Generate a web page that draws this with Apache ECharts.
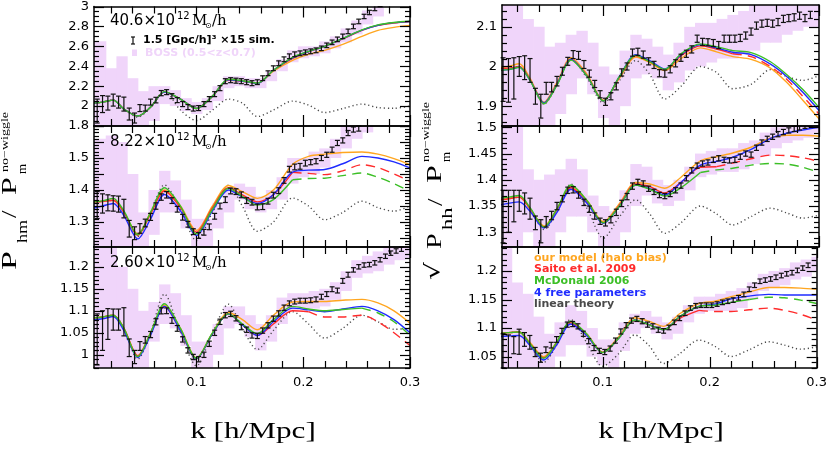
<!DOCTYPE html>
<html>
<head>
<meta charset="utf-8">
<script src="https://cdn.jsdelivr.net/npm/echarts@6/dist/echarts.min.js"></script>
<style>
  html, body { margin: 0; padding: 0; background: #fff; }
  .char { width: 830px; height: 463px; }
</style>
</head>
<body>
<div id="char" class="char"></div>
<script>
// k grid of the model curves
const kModel = [0.004, 0.012, 0.022, 0.032, 0.045, 0.057, 0.07, 0.085, 0.1, 0.115, 0.13, 0.143, 0.157, 0.172, 0.19, 0.205, 0.22, 0.237, 0.255, 0.27, 0.285, 0.3]
// k of the simulation points
const kSim = [0.007, 0.012, 0.017, 0.022, 0.027, 0.032, 0.037, 0.042, 0.047, 0.052,
  0.057, 0.062, 0.067, 0.072, 0.077, 0.082, 0.087, 0.092, 0.097, 0.102,
  0.107, 0.112, 0.117, 0.122, 0.127, 0.132, 0.137, 0.142, 0.147, 0.152,
  0.157, 0.162, 0.167, 0.172, 0.177, 0.182, 0.187, 0.192, 0.197, 0.202,
  0.207, 0.212, 0.217, 0.222, 0.227, 0.232, 0.237, 0.242, 0.247, 0.252,
  0.257, 0.262, 0.267, 0.272, 0.277, 0.282, 0.287, 0.292]
// BOSS bin edges
const kBoss = [0, 0.015, 0.025, 0.035, 0.045, 0.055, 0.065, 0.075, 0.085, 0.095, 0.105, 0.115, 0.125, 0.135, 0.145,
  0.155, 0.165, 0.175, 0.185, 0.195, 0.205, 0.215, 0.225, 0.235, 0.245, 0.255, 0.265, 0.275, 0.285, 0.295, 0.31]

const xTicks = [0.1, 0.2, 0.3]
const tlTicks = [1.8, 2, 2.2, 2.4, 2.6, 2.8, 3]
const mlTicks = [1.3, 1.4, 1.5]
const blTicks = [1, 1.05, 1.1, 1.15, 1.2]
const trTicks = [1.9, 2, 2.1]
const mrTicks = [1.3, 1.35, 1.4, 1.45, 1.5]
const brTicks = [1.05, 1.1, 1.15, 1.2]

const massLabels = ['40.6', '8.22', '2.60']
const legendNames = ['our model (halo bias)', 'Saito et al. 2009', 'McDonald 2006', '4 free parameters', 'linear theory']

// top left: P_hm, 40.6e12
const tlOurs = [2.03, 2.04, 2.06, 1.97, 1.9, 1.99, 2.14, 2.07, 1.975, 2.1, 2.26, 2.25, 2.23, 2.35, 2.46, 2.52, 2.56, 2.62, 2.7, 2.76, 2.79, 2.81]
const tlSaito = [2.03, 2.04, 2.06, 1.97, 1.9, 1.99, 2.14, 2.07, 1.975, 2.1, 2.265, 2.25, 2.228, 2.36, 2.48, 2.545, 2.6, 2.675, 2.76, 2.81, 2.835, 2.85]
const tlMcd = [2.03, 2.04, 2.06, 1.97, 1.9, 1.99, 2.145, 2.07, 1.975, 2.1, 2.27, 2.255, 2.23, 2.36, 2.49, 2.55, 2.6, 2.68, 2.765, 2.815, 2.84, 2.852]
const tlFree = [2.03, 2.04, 2.06, 1.97, 1.9, 1.99, 2.14, 2.07, 1.975, 2.1, 2.265, 2.25, 2.228, 2.36, 2.485, 2.548, 2.6, 2.678, 2.763, 2.812, 2.838, 2.85]
const tlLinear = [2.03, 2.04, 2.06, 1.97, 1.89, 1.99, 2.15, 1.96, 1.855, 1.96, 2.07, 2.03, 1.895, 1.96, 2.05, 2.01, 1.935, 1.975, 2.02, 1.985, 1.978, 2.0]
const tlSim = [1.95, 2.02, 2.03, 2.06, 2.04, 2.02, 1.92, 1.88, 1.98, 1.98,
  2.04, 2.06, 2.13, 2.14, 2.1, 2.06, 2.02, 1.99, 1.975, 1.98,
  2.02, 2.07, 2.12, 2.18, 2.25, 2.26, 2.255, 2.25, 2.24, 2.23,
  2.24, 2.28, 2.33, 2.38, 2.43, 2.47, 2.5, 2.52, 2.53, 2.54,
  2.55, 2.56, 2.58, 2.61, 2.64, 2.67, 2.7, 2.75, 2.8, 2.85,
  2.9, 2.94, 2.98, 3.02, 3.06, 3.1, 3.14, 3.18]
const tlErr = [0.12, 0.085, 0.07, 0.06, 0.06, 0.07, 0.06, 0.05, 0.035, 0.03,
  0.03, 0.028, 0.026, 0.025, 0.025, 0.025, 0.025, 0.025, 0.025, 0.025,
  0.025, 0.025, 0.025, 0.025, 0.025, 0.025, 0.025, 0.025, 0.025, 0.025,
  0.024, 0.024, 0.024, 0.024, 0.024, 0.024, 0.024, 0.024, 0.024, 0.024,
  0.024, 0.024, 0.023, 0.023, 0.023, 0.023, 0.023, 0.023, 0.023, 0.023,
  0.022, 0.022, 0.022, 0.022, 0.022, 0.022, 0.022, 0.022]
const tlBossLo = [1.7, 1.7, 1.7, 1.7, 1.7, 1.85, 2.02, 2.0, 1.95, 1.92, 1.96, 2.05, 2.18, 2.2, 2.18, 2.18, 2.25, 2.35, 2.44, 2.48, 2.5, 2.53, 2.58, 2.64, 2.72, 2.82, 2.9, 3.0, 3.05, 3.1]
const tlBossHi = [2.65, 2.38, 2.5, 2.28, 2.15, 2.2, 2.2, 2.16, 2.08, 2.04, 2.08, 2.2, 2.3, 2.3, 2.28, 2.28, 2.35, 2.47, 2.56, 2.6, 2.6, 2.65, 2.7, 2.78, 2.86, 2.96, 3.05, 3.1, 3.2, 3.2]

// middle left: 8.22e12
const mlOurs = [1.363, 1.365, 1.368, 1.33, 1.263, 1.33, 1.4, 1.35, 1.274, 1.35, 1.414, 1.395, 1.374, 1.4, 1.48, 1.505, 1.512, 1.517, 1.519, 1.512, 1.498, 1.479]
const mlSaito = [1.363, 1.364, 1.368, 1.33, 1.258, 1.325, 1.397, 1.345, 1.268, 1.345, 1.407, 1.385, 1.363, 1.385, 1.455, 1.452, 1.448, 1.46, 1.479, 1.47, 1.45, 1.427]
const mlMcd = [1.363, 1.366, 1.374, 1.335, 1.26, 1.33, 1.407, 1.35, 1.263, 1.34, 1.405, 1.38, 1.353, 1.37, 1.432, 1.436, 1.437, 1.445, 1.453, 1.44, 1.42, 1.396]
const mlFree = [1.344, 1.35, 1.358, 1.32, 1.247, 1.31, 1.386, 1.335, 1.258, 1.335, 1.4, 1.378, 1.358, 1.385, 1.456, 1.462, 1.464, 1.482, 1.505, 1.5, 1.488, 1.469]
const mlLinear = [1.363, 1.365, 1.368, 1.33, 1.255, 1.33, 1.416, 1.34, 1.242, 1.33, 1.415, 1.35, 1.271, 1.3, 1.375, 1.35, 1.307, 1.33, 1.365, 1.345, 1.334, 1.35]
const mlSim = [1.353, 1.358, 1.36, 1.358, 1.356, 1.342, 1.279, 1.265, 1.28, 1.297,
  1.316, 1.35, 1.378, 1.385, 1.367, 1.34, 1.315, 1.293, 1.27, 1.258,
  1.268, 1.285, 1.318, 1.35, 1.37, 1.397, 1.395, 1.385, 1.367, 1.362,
  1.347, 1.348, 1.365, 1.384, 1.398, 1.43, 1.465, 1.472, 1.474, 1.484,
  1.487, 1.49, 1.5, 1.51, 1.526, 1.547, 1.555, 1.578, 1.589, 1.592,
  1.61, 1.625, 1.64, 1.655, 1.67, 1.685, 1.7, 1.715]
const mlErr = [0.042, 0.03, 0.025, 0.024, 0.025, 0.029, 0.026, 0.02, 0.015, 0.012,
  0.011, 0.01, 0.01, 0.01, 0.009, 0.009, 0.009, 0.009, 0.009, 0.009,
  0.009, 0.009, 0.009, 0.009, 0.009, 0.009, 0.009, 0.009, 0.009, 0.009,
  0.009, 0.009, 0.009, 0.009, 0.009, 0.009, 0.009, 0.009, 0.009, 0.009,
  0.008, 0.008, 0.008, 0.008, 0.008, 0.008, 0.008, 0.008, 0.008, 0.008,
  0.008, 0.008, 0.008, 0.008, 0.008, 0.008, 0.008, 0.008]
const mlBossLo = [1.2, 1.2, 1.2, 1.2, 1.2, 1.26, 1.33, 1.33, 1.28, 1.2, 1.2, 1.28, 1.33, 1.37, 1.34, 1.33, 1.34, 1.37, 1.42, 1.44, 1.45, 1.47, 1.5, 1.53, 1.56, 1.58, 1.6, 1.62, 1.64, 1.66]
const mlBossHi = [1.56, 1.57, 1.55, 1.45, 1.33, 1.4, 1.46, 1.43, 1.37, 1.31, 1.31, 1.36, 1.4, 1.42, 1.41, 1.38, 1.4, 1.44, 1.5, 1.5, 1.52, 1.53, 1.56, 1.6, 1.62, 1.66, 1.7, 1.7, 1.72, 1.74]

// bottom left: 2.60e12
const blOurs = [1.084, 1.086, 1.09, 1.06, 0.998, 1.05, 1.113, 1.06, 0.993, 1.05, 1.096, 1.08, 1.057, 1.09, 1.12, 1.121, 1.121, 1.124, 1.126, 1.118, 1.1, 1.072]
const blSaito = [1.084, 1.086, 1.09, 1.06, 0.998, 1.048, 1.11, 1.055, 0.991, 1.048, 1.093, 1.068, 1.044, 1.07, 1.1, 1.098, 1.086, 1.086, 1.09, 1.075, 1.05, 1.021]
const blMcd = [1.084, 1.086, 1.09, 1.06, 0.996, 1.05, 1.116, 1.06, 0.992, 1.05, 1.093, 1.07, 1.048, 1.08, 1.11, 1.104, 1.1, 1.103, 1.106, 1.095, 1.075, 1.044]
const blFree = [1.08, 1.082, 1.087, 1.055, 0.994, 1.045, 1.11, 1.055, 0.991, 1.048, 1.093, 1.068, 1.044, 1.075, 1.106, 1.102, 1.098, 1.104, 1.11, 1.1, 1.08, 1.05]
const blLinear = [1.084, 1.086, 1.09, 1.06, 0.99, 1.05, 1.138, 1.05, 0.975, 1.05, 1.115, 1.06, 1.012, 1.055, 1.098, 1.07, 1.038, 1.06, 1.09, 1.075, 1.058, 1.06]
const blSim = [1.035, 1.055, 1.07, 1.08, 1.08, 1.075, 1.016, 0.995, 1.02, 1.034,
  1.046, 1.075, 1.1, 1.1, 1.078, 1.06, 1.035, 1.01, 0.995, 0.99,
  1.0, 1.025, 1.05, 1.075, 1.09, 1.093, 1.083, 1.063, 1.057, 1.044,
  1.043, 1.055, 1.067, 1.082, 1.094, 1.107, 1.117, 1.121, 1.123, 1.123,
  1.124, 1.126, 1.132, 1.138, 1.149, 1.146, 1.168, 1.182, 1.193, 1.2,
  1.204, 1.205, 1.209, 1.216, 1.224, 1.231, 1.236, 1.24]
const blErr = [0.058, 0.045, 0.035, 0.024, 0.024, 0.032, 0.02, 0.015, 0.01, 0.0075,
  0.007, 0.007, 0.007, 0.0065, 0.0065, 0.0065, 0.006, 0.006, 0.006, 0.006,
  0.006, 0.006, 0.006, 0.006, 0.006, 0.006, 0.006, 0.006, 0.006, 0.006,
  0.006, 0.006, 0.006, 0.006, 0.006, 0.006, 0.0055, 0.0055, 0.0055, 0.0055,
  0.0055, 0.0055, 0.0055, 0.0055, 0.0055, 0.0055, 0.0055, 0.0055, 0.005, 0.005,
  0.005, 0.005, 0.005, 0.005, 0.005, 0.005, 0.005, 0.005]
const blBossLo = [0.95, 0.95, 0.95, 0.95, 0.95, 1.03, 1.07, 1.06, 1.02, 0.95, 0.95, 1.0, 1.06, 1.07, 1.04, 1.01, 1.03, 1.07, 1.1, 1.105, 1.105, 1.11, 1.125, 1.145, 1.175, 1.185, 1.19, 1.205, 1.215, 1.22]
const blBossHi = [1.26, 1.26, 1.2, 1.15, 1.1, 1.12, 1.16, 1.14, 1.09, 1.03, 1.03, 1.07, 1.11, 1.11, 1.09, 1.07, 1.09, 1.13, 1.14, 1.14, 1.145, 1.15, 1.165, 1.19, 1.215, 1.225, 1.235, 1.245, 1.26, 1.26]

// top right: sqrt(P_hh), 40.6e12
const trOurs = [1.998, 2.0, 2.007, 1.97, 1.91, 1.96, 2.022, 1.98, 1.915, 1.97, 2.024, 2.01, 1.99, 2.02, 2.047, 2.037, 2.025, 2.018, 1.996, 1.96, 1.915, 1.868]
const trSaito = [1.995, 1.996, 2.0, 1.967, 1.907, 1.955, 2.018, 1.976, 1.913, 1.974, 2.027, 2.012, 1.992, 2.027, 2.052, 2.044, 2.032, 2.025, 2.0, 1.968, 1.925, 1.88]
const trMcd = [1.99, 1.992, 1.998, 1.965, 1.906, 1.953, 2.016, 1.975, 1.913, 1.975, 2.028, 2.012, 1.993, 2.032, 2.057, 2.05, 2.04, 2.035, 2.012, 1.98, 1.942, 1.897]
const trFree = [1.99, 1.992, 1.998, 1.965, 1.908, 1.955, 2.018, 1.975, 1.913, 1.975, 2.03, 2.015, 1.994, 2.03, 2.055, 2.047, 2.036, 2.03, 2.006, 1.975, 1.935, 1.889]
const trLinear = [1.995, 1.996, 2.0, 1.967, 1.905, 1.955, 2.02, 1.97, 1.908, 1.965, 2.015, 1.98, 1.918, 1.95, 2.0, 1.985, 1.944, 1.955, 1.992, 1.975, 1.965, 1.977]
const trSim = [1.967, 1.965, 1.97, 2.0, 1.997, 1.99, 1.925, 1.9, 1.945, 1.948,
  1.963, 1.988, 2.013, 2.03, 2.028, 2.005, 1.982, 1.956, 1.93, 1.911,
  1.925, 1.95, 1.985, 2.0, 2.035, 2.037, 2.03, 2.013, 2.004, 1.983,
  1.982, 1.993, 2.008, 2.022, 2.032, 2.043, 2.07, 2.062, 2.061, 2.059,
  2.054, 2.07, 2.07, 2.07, 2.072, 2.078, 2.088, 2.103, 2.108, 2.11,
  2.108, 2.112, 2.12, 2.122, 2.124, 2.128, 2.122, 2.13]
const trErr = [0.055, 0.055, 0.052, 0.025, 0.03, 0.03, 0.02, 0.03, 0.015, 0.012,
  0.012, 0.01, 0.01, 0.01, 0.01, 0.01, 0.009, 0.009, 0.009, 0.009,
  0.009, 0.009, 0.009, 0.009, 0.009, 0.009, 0.009, 0.009, 0.009, 0.009,
  0.009, 0.009, 0.009, 0.009, 0.009, 0.009, 0.009, 0.009, 0.009, 0.009,
  0.009, 0.009, 0.009, 0.009, 0.009, 0.009, 0.009, 0.009, 0.009, 0.009,
  0.009, 0.009, 0.009, 0.009, 0.009, 0.009, 0.009, 0.009]
const trBossLo = [1.8, 1.8, 1.8, 1.8, 1.8, 1.88, 1.93, 1.97, 1.93, 1.87, 1.85, 1.9, 1.97, 1.98, 1.97, 1.94, 1.96, 1.99, 2.0, 2.01, 2.02, 2.02, 2.03, 2.04, 2.06, 2.06, 2.08, 2.09, 2.1, 2.1]
const trBossHi = [2.2, 2.2, 2.12, 2.1, 2.05, 2.06, 2.08, 2.09, 2.06, 2.0, 1.98, 2.04, 2.08, 2.07, 2.05, 2.03, 2.06, 2.1, 2.11, 2.11, 2.12, 2.13, 2.14, 2.2, 2.2, 2.2, 2.2, 2.2, 2.2, 2.2]

// middle right: 8.22e12
const mrOurs = [1.362, 1.364, 1.367, 1.345, 1.312, 1.345, 1.387, 1.36, 1.32, 1.355, 1.395, 1.392, 1.384, 1.405, 1.436, 1.444, 1.451, 1.462, 1.48, 1.485, 1.485, 1.483]
const mrSaito = [1.362, 1.364, 1.367, 1.345, 1.31, 1.343, 1.385, 1.357, 1.318, 1.352, 1.392, 1.387, 1.375, 1.395, 1.424, 1.425, 1.432, 1.44, 1.447, 1.446, 1.442, 1.435]
const mrMcd = [1.365, 1.367, 1.37, 1.347, 1.31, 1.345, 1.39, 1.36, 1.318, 1.35, 1.39, 1.382, 1.369, 1.385, 1.414, 1.419, 1.422, 1.428, 1.431, 1.43, 1.424, 1.414]
const mrFree = [1.352, 1.355, 1.358, 1.34, 1.308, 1.338, 1.382, 1.355, 1.317, 1.35, 1.39, 1.383, 1.371, 1.395, 1.428, 1.435, 1.443, 1.458, 1.479, 1.489, 1.495, 1.5]
const mrLinear = [1.362, 1.364, 1.367, 1.345, 1.305, 1.34, 1.392, 1.345, 1.289, 1.33, 1.362, 1.335, 1.298, 1.318, 1.35, 1.335, 1.314, 1.33, 1.346, 1.337, 1.327, 1.333]
const mrSim = [1.33, 1.34, 1.35, 1.36, 1.355, 1.345, 1.318, 1.302, 1.32, 1.332,
  1.35, 1.364, 1.38, 1.381, 1.371, 1.357, 1.344, 1.331, 1.321, 1.318,
  1.324, 1.338, 1.355, 1.368, 1.388, 1.396, 1.393, 1.383, 1.377, 1.371,
  1.369, 1.373, 1.38, 1.389, 1.403, 1.418, 1.427, 1.431, 1.433, 1.438,
  1.441, 1.438, 1.437, 1.438, 1.444, 1.45, 1.448, 1.461, 1.471, 1.478,
  1.482, 1.487, 1.491, 1.494, 1.497, 1.5, 1.503, 1.506]
const mrErr = [0.05, 0.04, 0.03, 0.02, 0.02, 0.02, 0.013, 0.022, 0.01, 0.008,
  0.007, 0.006, 0.006, 0.006, 0.006, 0.006, 0.006, 0.006, 0.006, 0.006,
  0.006, 0.006, 0.006, 0.006, 0.006, 0.005, 0.005, 0.005, 0.005, 0.005,
  0.005, 0.005, 0.005, 0.005, 0.005, 0.005, 0.005, 0.005, 0.005, 0.005,
  0.005, 0.005, 0.005, 0.005, 0.005, 0.005, 0.005, 0.005, 0.005, 0.005,
  0.005, 0.005, 0.005, 0.005, 0.005, 0.005, 0.005, 0.005]
const mrBossLo = [1.26, 1.26, 1.3, 1.26, 1.26, 1.3, 1.33, 1.33, 1.3, 1.26, 1.26, 1.3, 1.35, 1.37, 1.355, 1.35, 1.36, 1.38, 1.405, 1.41, 1.415, 1.415, 1.42, 1.43, 1.445, 1.46, 1.47, 1.475, 1.48, 1.49]
const mrBossHi = [1.51, 1.51, 1.42, 1.4, 1.41, 1.42, 1.44, 1.42, 1.37, 1.35, 1.34, 1.38, 1.43, 1.425, 1.4, 1.39, 1.4, 1.425, 1.45, 1.455, 1.46, 1.46, 1.47, 1.475, 1.49, 1.5, 1.505, 1.51, 1.51, 1.51]

// bottom right: 2.60e12
const brOurs = [1.091, 1.092, 1.093, 1.075, 1.05, 1.075, 1.11, 1.09, 1.058, 1.085, 1.118, 1.112, 1.103, 1.125, 1.143, 1.147, 1.155, 1.163, 1.171, 1.171, 1.17, 1.168]
const brSaito = [1.091, 1.092, 1.093, 1.073, 1.048, 1.073, 1.109, 1.088, 1.057, 1.082, 1.113, 1.106, 1.097, 1.117, 1.131, 1.129, 1.129, 1.132, 1.135, 1.131, 1.124, 1.114]
const brMcd = [1.091, 1.092, 1.093, 1.073, 1.047, 1.075, 1.112, 1.09, 1.057, 1.082, 1.114, 1.106, 1.097, 1.12, 1.138, 1.14, 1.145, 1.15, 1.154, 1.153, 1.149, 1.143]
const brFree = [1.085, 1.086, 1.087, 1.07, 1.044, 1.07, 1.107, 1.087, 1.057, 1.082, 1.114, 1.106, 1.097, 1.12, 1.138, 1.142, 1.151, 1.156, 1.159, 1.158, 1.158, 1.158]
const brLinear = [1.091, 1.092, 1.093, 1.07, 1.04, 1.07, 1.115, 1.075, 1.033, 1.055, 1.088, 1.07, 1.038, 1.055, 1.079, 1.068, 1.05, 1.062, 1.076, 1.07, 1.063, 1.067]
const brSim = [1.06, 1.058, 1.07, 1.076, 1.08, 1.075, 1.058, 1.048, 1.062, 1.07,
  1.08, 1.095, 1.106, 1.107, 1.103, 1.09, 1.077, 1.065, 1.06, 1.058,
  1.064, 1.078, 1.094, 1.105, 1.113, 1.116, 1.112, 1.106, 1.103, 1.097,
  1.095, 1.101, 1.11, 1.117, 1.126, 1.135, 1.139, 1.14, 1.14, 1.14,
  1.142, 1.145, 1.147, 1.149, 1.153, 1.159, 1.168, 1.175, 1.182, 1.184,
  1.186, 1.189, 1.192, 1.195, 1.197, 1.201, 1.205, 1.21]
const brErr = [0.03, 0.03, 0.015, 0.022, 0.012, 0.012, 0.008, 0.008, 0.005, 0.005,
  0.005, 0.0045, 0.0045, 0.0045, 0.0045, 0.0045, 0.0045, 0.0045, 0.0045, 0.0045,
  0.0045, 0.0045, 0.0045, 0.0045, 0.0045, 0.0045, 0.0045, 0.0045, 0.0045, 0.0045,
  0.004, 0.004, 0.004, 0.004, 0.004, 0.004, 0.004, 0.004, 0.004, 0.004,
  0.004, 0.004, 0.004, 0.004, 0.004, 0.004, 0.004, 0.004, 0.004, 0.004,
  0.004, 0.004, 0.004, 0.004, 0.004, 0.004, 0.004, 0.004]
const brBossLo = [1.02, 1.02, 1.02, 1.02, 1.02, 1.05, 1.07, 1.07, 1.05, 1.035, 1.02, 1.06, 1.09, 1.1, 1.09, 1.08, 1.09, 1.11, 1.125, 1.13, 1.13, 1.13, 1.135, 1.15, 1.165, 1.17, 1.175, 1.185, 1.19, 1.2]
const brBossHi = [1.25, 1.18, 1.16, 1.12, 1.09, 1.11, 1.14, 1.13, 1.1, 1.08, 1.08, 1.11, 1.125, 1.13, 1.12, 1.11, 1.12, 1.14, 1.155, 1.155, 1.16, 1.165, 1.17, 1.18, 1.195, 1.2, 1.205, 1.215, 1.22, 1.225]

const colors = { ours: '#ffa620', saito: '#ff2b2b', mcd: '#3cbf26', free: '#1f2cff', linear: '#4a4a4a' }
const bossColor = '#f0d5fa'

const panels = [
  { left: 94, top: 5, width: 316, xMin: 0.004, yMin: 1.8, yMax: 3, ticks: tlTicks, major: 0.2, minor: 0.05, mass: 0, xLabels: false,
    ours: tlOurs, saito: tlSaito, mcd: tlMcd, free: tlFree, linear: tlLinear, sim: tlSim, err: tlErr, lo: tlBossLo, hi: tlBossHi, saitoCut: 0.3, mcdCut: 0.3 },
  { left: 94, top: 126, width: 316, xMin: 0.004, yMin: 1.222, yMax: 1.6, ticks: mlTicks, major: 0.05, minor: 0.01, mass: 1, xLabels: false,
    ours: mlOurs, saito: mlSaito, mcd: mlMcd, free: mlFree, linear: mlLinear, sim: mlSim, err: mlErr, lo: mlBossLo, hi: mlBossHi, saitoCut: 0.19, mcdCut: 0.19 },
  { left: 94, top: 247, width: 316, xMin: 0.004, yMin: 0.97, yMax: 1.245, ticks: blTicks, major: 0.05, minor: 0.01, mass: 2, xLabels: true,
    ours: blOurs, saito: blSaito, mcd: blMcd, free: blFree, linear: blLinear, sim: blSim, err: blErr, lo: blBossLo, hi: blBossHi, saitoCut: 0.205, mcdCut: 0.255 },
  { left: 502, top: 5, width: 317, xMin: 0.006, yMin: 1.85, yMax: 2.155, ticks: trTicks, major: 0.1, minor: 0.02, mass: -1, xLabels: false,
    ours: trOurs, saito: trSaito, mcd: trMcd, free: trFree, linear: trLinear, sim: trSim, err: trErr, lo: trBossLo, hi: trBossHi, saitoCut: 0.22, mcdCut: 0.3 },
  { left: 502, top: 126, width: 317, xMin: 0.006, yMin: 1.272, yMax: 1.5025, ticks: mrTicks, major: 0.05, minor: 0.01, mass: -1, xLabels: false,
    ours: mrOurs, saito: mrSaito, mcd: mrMcd, free: mrFree, linear: mrLinear, sim: mrSim, err: mrErr, lo: mrBossLo, hi: mrBossHi, saitoCut: 0.205, mcdCut: 0.19 },
  { left: 502, top: 247, width: 317, xMin: 0.006, yMin: 1.03, yMax: 1.242, ticks: brTicks, major: 0.05, minor: 0.01, mass: -1, xLabels: true,
    ours: brOurs, saito: brSaito, mcd: brMcd, free: brFree, linear: brLinear, sim: brSim, err: brErr, lo: brBossLo, hi: brBossHi, saitoCut: 0.19, mcdCut: 0.237 }
]
const panelHeight = 121

// tick positions between min and max for a given step
function ticksOf(min, max, step) {
  const out = []
  const n0 = Math.ceil(min / step - 1e-6), n1 = Math.floor(max / step + 1e-6)
  for (let n = n0; n <= n1; n++) out.push(+(n * step).toFixed(4))
  return out
}
const fmt = (v) => String(+(+v).toFixed(3))

function renderBoss(params, api) {
  const a = api.coord([api.value(0), api.value(3)])
  const b = api.coord([api.value(1), api.value(2)])
  const cs = params.coordSys
  const shape = echarts.graphic.clipRectByRect(
    { x: a[0], y: a[1], width: b[0] - a[0] + 0.6, height: b[1] - a[1] },
    { x: cs.x, y: cs.y, width: cs.width, height: cs.height })
  if (!shape) return null
  return { type: 'rect', shape: shape, style: { fill: bossColor } }
}

function renderErr(params, api) {
  const k = api.value(0), m = api.value(1), e = api.value(2)
  const top = api.coord([k, m + e]), bot = api.coord([k, m - e])
  const cs = params.coordSys
  if (top[1] > cs.y + cs.height || bot[1] < cs.y) return null
  const x = top[0], w = 2.5
  const y0 = Math.max(top[1], cs.y), y1 = Math.min(bot[1], cs.y + cs.height)
  const st = { stroke: '#111', lineWidth: 1.2 }
  const children = [{ type: 'line', shape: { x1: x, y1: y0, x2: x, y2: y1 }, style: st }]
  if (top[1] >= cs.y) children.push({ type: 'line', shape: { x1: x - w, y1: top[1], x2: x + w, y2: top[1] }, style: st })
  if (bot[1] <= cs.y + cs.height) children.push({ type: 'line', shape: { x1: x - w, y1: bot[1], x2: x + w, y2: bot[1] }, style: st })
  return { type: 'group', children: children }
}

// inward ticks on all four sides of a panel
function renderTick(params, api) {
  const cs = params.coordSys
  const pt = api.coord([api.value(0), api.value(1)])
  const len = api.value(3)
  const st = { stroke: '#000', lineWidth: 1.2 }
  if (api.value(2) === 0) {
    const x = Math.round(pt[0]) + 0.5, yb = cs.y + cs.height
    return { type: 'group', children: [
      { type: 'line', shape: { x1: x, y1: yb, x2: x, y2: yb - len }, style: st },
      { type: 'line', shape: { x1: x, y1: cs.y, x2: x, y2: cs.y + len }, style: st }
    ] }
  }
  const y = Math.round(pt[1]) + 0.5, xr = cs.x + cs.width
  return { type: 'group', children: [
    { type: 'line', shape: { x1: cs.x, y1: y, x2: cs.x + len, y2: y }, style: st },
    { type: 'line', shape: { x1: xr, y1: y, x2: xr - len, y2: y }, style: st }
  ] }
}

function curve(xi, yi, pts, color, type, z) {
  return {
    type: 'line', xAxisIndex: xi, yAxisIndex: yi, data: pts, symbol: 'none', showSymbol: false,
    smooth: 0.3, silent: true, animation: false, z: z,
    lineStyle: { color: color, width: 1.4, type: type }
  }
}

function pairs(vals) {
  return kModel.map((k, i) => [k, vals[i]])
}

function splitAt(vals, cut) {
  const solid = [], dashed = []
  kModel.forEach((k, i) => {
    if (k <= cut + 1e-9) solid.push([k, vals[i]])
    if (k >= cut - 1e-9) dashed.push([k, vals[i]])
  })
  return [solid, dashed]
}

const grids = [], xAxes = [], yAxes = [], series = [], graphics = []
const labelFont = { color: '#000', fontFamily: 'DejaVu Sans', fontSize: 13 }

panels.forEach((p, g) => {
  grids.push({ left: p.left, top: p.top, width: p.width, height: panelHeight })
  const xi = xAxes.length, yi = yAxes.length

  const xAxis = (pos, lab) => ({
    type: 'value', gridIndex: g, min: p.xMin, max: 0.3, position: pos, z: 10,
    axisLine: { show: true, onZero: false, lineStyle: { color: '#000', width: 1.5 } },
    axisTick: { show: false },
    axisLabel: lab ? Object.assign({ show: true, customValues: xTicks, margin: 8, formatter: fmt }, labelFont) : { show: false },
    splitLine: { show: false }
  })
  const yAxis = (pos, lab) => ({
    type: 'value', gridIndex: g, min: p.yMin, max: p.yMax, position: pos, z: 10,
    axisLine: { show: true, onZero: false, lineStyle: { color: '#000', width: 1.5 } },
    axisTick: { show: false },
    axisLabel: lab ? Object.assign({ show: true, customValues: p.ticks, margin: 5, formatter: fmt, showMinLabel: true, showMaxLabel: true }, labelFont) : { show: false },
    splitLine: { show: false }
  })
  xAxes.push(xAxis('bottom', p.xLabels), xAxis('top', false))
  yAxes.push(yAxis('left', true), yAxis('right', false))

  // BOSS band
  series.push({
    type: 'custom', xAxisIndex: xi, yAxisIndex: yi, renderItem: renderBoss, silent: true, animation: false, z: 1,
    encode: { x: [0, 1], y: [2, 3] },
    data: p.lo.map((lo, i) => [kBoss[i], kBoss[i + 1], lo, p.hi[i]])
  })
  // linear theory
  series.push(curve(xi, yi, pairs(p.linear), colors.linear, [1.2, 2.8], 2))
  // models
  series.push(curve(xi, yi, pairs(p.ours), colors.ours, 'solid', 3))
  const s = splitAt(p.saito, p.saitoCut)
  series.push(curve(xi, yi, s[0], colors.saito, 'solid', 3))
  if (s[1].length > 1) series.push(curve(xi, yi, s[1], colors.saito, [9, 6], 3))
  series.push(curve(xi, yi, pairs(p.free), colors.free, 'solid', 3))
  const m = splitAt(p.mcd, p.mcdCut)
  series.push(curve(xi, yi, m[0], colors.mcd, 'solid', 3))
  if (m[1].length > 1) series.push(curve(xi, yi, m[1], colors.mcd, [9, 6], 3))
  // simulations
  series.push({
    type: 'custom', xAxisIndex: xi, yAxisIndex: yi, renderItem: renderErr, silent: true, animation: false, z: 5,
    encode: { x: 0, y: 1 },
    data: kSim.map((k, i) => [k, p.sim[i], p.err[i]])
  })
  // axis ticks: every 0.02 in k, longer at 0.1
  const xMajor = ticksOf(p.xMin, 0.3, 0.1)
  const xMinor = ticksOf(p.xMin, 0.3, 0.02).filter(v => xMajor.indexOf(v) < 0)
  const yMajor = ticksOf(p.yMin, p.yMax, p.major)
  const yMinor = ticksOf(p.yMin, p.yMax, p.minor).filter(v => yMajor.indexOf(v) < 0)
  const tickRows = []
  xMajor.forEach(v => tickRows.push([v, p.yMin, 0, 11]))
  xMinor.forEach(v => tickRows.push([v, p.yMin, 0, 7]))
  yMajor.forEach(v => tickRows.push([p.xMin, v, 1, 10]))
  yMinor.forEach(v => tickRows.push([p.xMin, v, 1, 5]))
  series.push({
    type: 'custom', xAxisIndex: xi, yAxisIndex: yi, renderItem: renderTick, silent: true, animation: false, z: 8,
    encode: { x: 0, y: 1 }, data: tickRows
  })

  // halo mass label
  if (p.mass >= 0) {
    const y = p.top + 16.5
    const sans = 'DejaVu Sans', serif = 'DejaVu Serif'
    graphics.push(
      { type: 'text', z: 100, x: 110, y: y, style: { text: massLabels[p.mass] + '\u00d710', fontFamily: sans, fontSize: 15, fill: '#000', verticalAlign: 'middle' } },
      { type: 'text', z: 100, x: 177, y: y - 5, style: { text: '12', fontFamily: sans, fontSize: 10, fill: '#000', verticalAlign: 'middle' } },
      { type: 'text', z: 100, x: 192, y: y, style: { text: 'M', fontFamily: serif, fontSize: 15, fill: '#000', verticalAlign: 'middle' } },
      { type: 'text', z: 100, x: 205, y: y + 4, style: { text: '\u2299', fontFamily: sans, fontSize: 8, fill: '#000', verticalAlign: 'middle' } },
      { type: 'text', z: 100, x: 212, y: y, style: { text: '/h', fontFamily: serif, fontSize: 15, fill: '#000', verticalAlign: 'middle' } }
    )
  }
})

// legend inside the top left panel
graphics.push(
  { type: 'line', z: 100, shape: { x1: 133, y1: 37, x2: 133, y2: 44 }, style: { stroke: '#111', lineWidth: 1.2 } },
  { type: 'line', z: 100, shape: { x1: 131, y1: 37, x2: 135, y2: 37 }, style: { stroke: '#111', lineWidth: 1.2 } },
  { type: 'line', z: 100, shape: { x1: 131, y1: 44, x2: 135, y2: 44 }, style: { stroke: '#111', lineWidth: 1.2 } },
  { type: 'text', z: 100, x: 143, y: 40.5, style: { text: '1.5 [Gpc/h]\u00b3 \u00d715 sim.', fontFamily: 'DejaVu Sans', fontWeight: 'bold', fontSize: 11, fill: '#000', verticalAlign: 'middle' } },
  { type: 'rect', z: 100, shape: { x: 132, y: 49.5, width: 5, height: 6.5 }, style: { fill: bossColor } },
  { type: 'text', z: 100, x: 145, y: 53, style: { text: 'BOSS (0.5<z<0.7)', fontFamily: 'DejaVu Sans', fontWeight: 'bold', fontSize: 11, fill: bossColor, verticalAlign: 'middle' } }
)

// legend inside the bottom right panel
const legendColors = [colors.ours, colors.saito, colors.mcd, colors.free, colors.linear]
legendNames.forEach((name, i) => {
  graphics.push({
    type: 'text', z: 100, x: 534, y: 258 + i * 11.6,
    style: { text: name, fontFamily: 'DejaVu Sans', fontWeight: 'bold', fontSize: 11, fill: legendColors[i], verticalAlign: 'middle' }
  })
})

// axis titles
const serifFont = 'Liberation Serif'
function part(text, x, y, size, sx, family) {
  return { type: 'text', x: x, y: y, scaleX: sx, style: { text: text, fontFamily: family || serifFont, fontSize: size, fill: '#000', verticalAlign: 'middle' } }
}
graphics.push(
  { type: 'text', z: 100, x: 253, y: 432, scaleX: 1.3, style: { text: 'k [h/Mpc]', fontFamily: serifFont, fontSize: 24, fill: '#000', align: 'center', verticalAlign: 'middle' } },
  { type: 'text', z: 100, x: 661, y: 432, scaleX: 1.3, style: { text: 'k [h/Mpc]', fontFamily: serifFont, fontSize: 24, fill: '#000', align: 'center', verticalAlign: 'middle' } },
  {
    type: 'group', x: 0, y: 270, rotation: Math.PI / 2,
    children: [
      part('P', 0, 11, 20, 1.7),
      part('hm', 27, 23, 14, 1.3),
      part('/', 52, 10, 21, 1.3),
      part('P', 75, 11, 20, 1.6),
      part('m', 96, 23, 13, 1.0),
      part('no\u2212wiggle', 98, 5, 10, 1.4)
    ]
  },
  {
    type: 'group', x: 0, y: 280, rotation: Math.PI / 2,
    children: [
      part('\u221a', 0, 434, 20, 1.4, 'DejaVu Sans'),
      part('P', 31, 436, 20, 1.4),
      part('hh', 50, 448, 14, 1.6),
      part('/', 74, 436, 21, 1.3),
      part('P', 97, 436, 20, 1.6),
      part('m', 118, 447, 13, 1.0),
      part('no\u2212wiggle', 118, 426, 10, 1.4)
    ]
  }
)

const myChart = echarts.init(document.getElementById('char'))
myChart.setOption({
  animation: false,
  backgroundColor: '#fff',
  grid: grids,
  xAxis: xAxes,
  yAxis: yAxes,
  series: series,
  graphic: graphics
})
</script>
</body>
</html>
